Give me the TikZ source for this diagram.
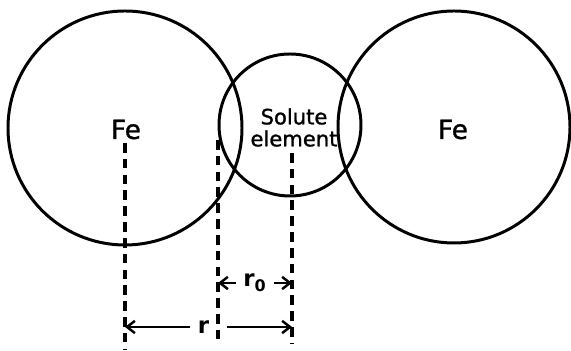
\documentclass[tikz,border=0pt]{standalone}
\usepackage{fontspec}
\setsansfont{DejaVu Sans}
\newfontfamily\atomfont[FakeBold=1.2]{DejaVu Sans}
\usetikzlibrary{arrows.meta}

\begin{document}
\begin{tikzpicture}[
    atom/.style={circle, draw, line width=1.7pt, inner sep=0pt},
    guide/.style={line width=2pt, dash pattern=on 5.5pt off 3.5pt},
    dim/.style={line width=1.4pt, -{Straight Barb[length=4.5pt,width=7pt]}},
    lbl/.style={font=\atomfont\fontsize{12}{12.5}\selectfont, inner sep=1pt},
    big/.style={lbl, font=\atomfont\fontsize{15}{16}\selectfont},
    dimlbl/.style={lbl, font=\sffamily\bfseries\fontsize{13}{14}\selectfont, inner sep=4pt}
]
    \useasboundingbox (0,0) rectangle (11.42,7.02);

    % Atoms
    \node[atom, minimum size=4.68cm] (feL) at (2.5,4.46) {};
    \node[atom, minimum size=4.64cm] (feR) at (9.08,4.48) {};
    \node[atom, minimum size=2.84cm] (sol) at (5.8,4.52) {};

    % Labels for atoms
    \node[big] (feLtxt) at (2.52,4.43) {Fe};
    \node[big] (feRtxt) at (9.06,4.43) {Fe};
    \node[lbl, align=center] (soltxt) at (5.88,4.47) {Solute\\element};

    % Guide lines
    \coordinate (lA) at (2.5,4.16);  \coordinate (lB) at (2.5,0.02);
    \coordinate (mA) at (4.36,4.22); \coordinate (mB) at (4.36,0.18);
    \coordinate (rA) at (5.84,3.96); \coordinate (rB) at (5.84,0.16);
    \draw[guide] (lA) -- (lB);
    \draw[guide] (mA) -- (mB);
    \draw[guide] (rA) -- (rB);

    % Dimensions
    \node[dimlbl] (r0) at (5.1,1.36) {r\textsubscript{0}};
    \draw[dim] (r0.west) -- (r0.west -| mA);
    \draw[dim] (r0.east) -- (r0.east -| rA);

    \node[dimlbl] (r) at (4.07,0.48) {r};
    \coordinate (rgap) at (4.54,0.48);
    \draw[dim] (r.west) -- (r.west -| lA);
    \draw[dim] (rgap) -- (rgap -| rA);
\end{tikzpicture}
\end{document}
